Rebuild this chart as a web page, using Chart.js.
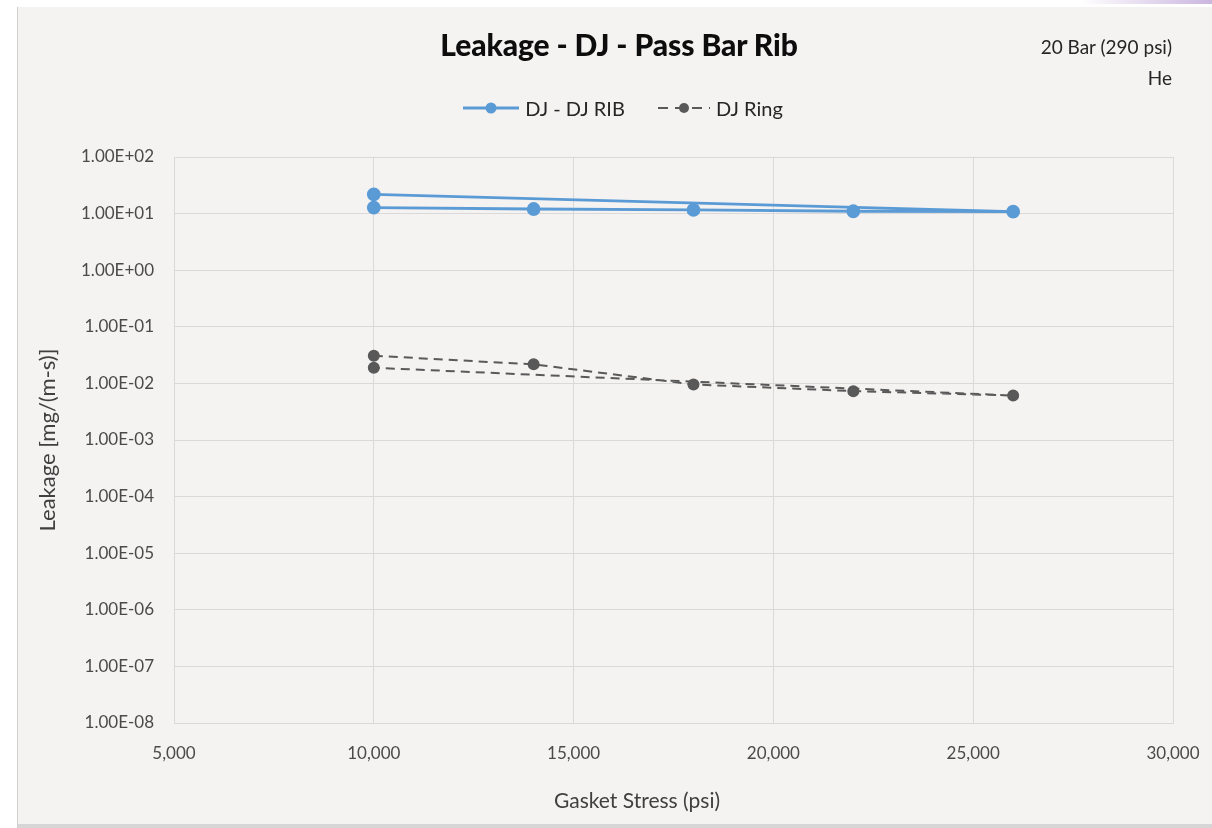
<!DOCTYPE html>
<html>
<head>
<meta charset="utf-8">
<script src="https://cdn.jsdelivr.net/npm/chart.js@4"></script>
<style>
  html, body { margin: 0; padding: 0; background: #fff; }
  body { width: 1212px; height: 828px; position: relative; overflow: hidden; font-family: Lato, "Open Sans", sans-serif; }
  #strip { position: absolute; left: 1080px; top: 0; width: 132px; height: 5px;
           background: linear-gradient(to right, rgba(200,180,225,0), #cbb6e0); }
  #panel { position: absolute; left: 14px; top: 4px; width: 1198px; height: 824px; background: #f5f2f2;
           box-shadow: inset 3px 3px 0 #ffffff, inset 4px 0 0 #cfcfcf, inset 0 -4px 0 #d6d6d6; }
  #wrap { position: absolute; left: 14px; top: 4px; width: 1198px; height: 824px; }
  #title { position: absolute; left: 0; width: 1238px; top: 26px; text-align: center;
           font-size: 30px; font-weight: 900; color: #0d0d0d; letter-spacing: -0.1px; }
  #note { position: absolute; right: 40px; top: 31px; text-align: right; font-size: 19px;
          line-height: 31px; color: #262626; }
  #legend { position: absolute; left: 0; width: 1246px; top: 95px; text-align: center; font-size: 20px; color: #262626; }
  #legend span.item { display: inline-flex; align-items: center; margin: 0 14px; }
  #legend svg { margin-right: 6px; }
  #xtitle { position: absolute; left: 437px; width: 400px; top: 787px; text-align: center;
            font-size: 21px; color: #404040; }
</style>
</head>
<body>
<div id="strip"></div>
<div id="panel"></div>
<div id="wrap"><canvas id="chart"></canvas></div>
<div id="title">Leakage - DJ - Pass Bar Rib</div>
<div id="note">20 Bar (290 psi)<br>He</div>
<div id="legend">
  <span class="item"><svg width="56" height="14"><line x1="0" y1="7" x2="56" y2="7" stroke="#5b9bd5" stroke-width="3"/><circle cx="28" cy="7" r="5.5" fill="#5b9bd5"/></svg>DJ - DJ RIB</span>
  <span class="item"><svg width="52" height="14"><line x1="0" y1="7" x2="52" y2="7" stroke="#595959" stroke-width="2" stroke-dasharray="10,7"/><circle cx="26" cy="7" r="5" fill="#595959"/></svg>DJ Ring</span>
</div>
<div id="xtitle">Gasket Stress (psi)</div>
<script>
// gasket stress (psi) and leakage [mg/(m-s)], in test order
const ribStress = [10000, 14000, 18000, 22000, 26000, 10000];
const ribLeak = [12.7, 12.05, 11.6, 11.0, 10.8, 21.9];

const ringStress = [10000, 14000, 18000, 22000, 26000, 10000];
const ringLeak = [0.0308, 0.0217, 0.0096, 0.0073, 0.0061, 0.0189];

const yTicks = [1e2, 1e1, 1e0, 1e-1, 1e-2, 1e-3, 1e-4, 1e-5, 1e-6, 1e-7, 1e-8];
const xTicks = [5000, 10000, 15000, 20000, 25000, 30000];

function pts(xs, ys) {
  return xs.map((x, i) => ({ x: x, y: ys[i] }));
}

function sci(v) {
  let s = v.toExponential(2).toUpperCase();
  return s.replace(/E([+-])(\d)$/, "E$10$2");
}

const tickFont = { family: "Lato", size: 17 };

new Chart(document.getElementById("chart"), {
  type: "scatter",
  data: {
    datasets: [{
      label: "DJ - DJ RIB",
      data: pts(ribStress, ribLeak),
      showLine: true,
      borderColor: "#5b9bd5",
      backgroundColor: "#5b9bd5",
      borderWidth: 2.8,
      pointRadius: 5.5,
      pointHoverRadius: 5.5
    }, {
      label: "DJ Ring",
      data: pts(ringStress, ringLeak),
      showLine: true,
      borderColor: "#595959",
      backgroundColor: "#595959",
      borderWidth: 2,
      borderDash: [9, 6],
      pointRadius: 5,
      pointHoverRadius: 5
    }]
  },
  options: {
    responsive: true,
    maintainAspectRatio: false,
    animation: false,
    layout: { padding: { top: 153, right: 39, left: 0, bottom: 0 } },
    plugins: {
      legend: { display: false },
      tooltip: { enabled: false }
    },
    scales: {
      x: {
        type: "linear",
        min: 5000,
        max: 30000,
        afterBuildTicks: s => { s.ticks = xTicks.map(v => ({ value: v })); },
        afterFit: s => { s.height = 105; s.paddingLeft = 0; s.paddingRight = 0; },
        grid: { color: "#d9d9d9", lineWidth: 1, drawTicks: false },
        border: { color: "#d9d9d9" },
        ticks: { font: tickFont, color: "#4a4a4a", padding: 20,
                 callback: v => v.toLocaleString("en-US") },
        title: { display: false }
      },
      y: {
        type: "logarithmic",
        min: 1e-8,
        max: 1e2,
        afterBuildTicks: s => { s.ticks = yTicks.map(v => ({ value: v })); },
        afterFit: s => { s.width = 160; s.paddingTop = 0; s.paddingBottom = 0; },
        grid: { color: "#d9d9d9", lineWidth: 1, drawTicks: false },
        border: { color: "#d9d9d9" },
        ticks: { font: tickFont, color: "#4a4a4a", padding: 20, callback: v => sci(v) },
        title: { display: true, text: "Leakage [mg/(m-s)]", color: "#404040",
                 font: { family: "Lato", size: 22 }, padding: { top: 21 } }
      }
    }
  }
});
</script>
</body>
</html>
